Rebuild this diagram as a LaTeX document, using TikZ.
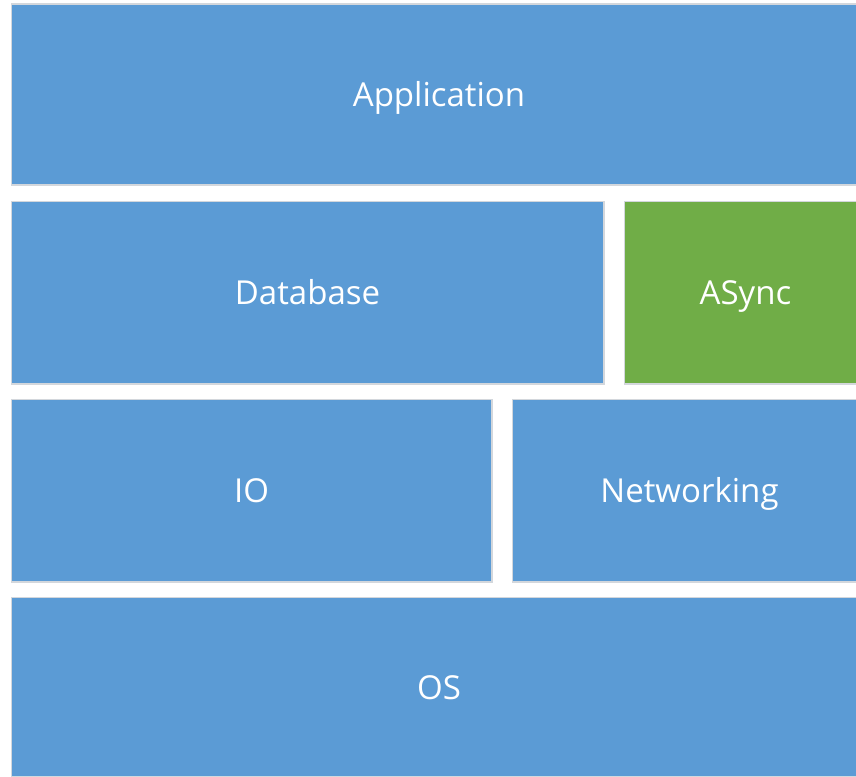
\documentclass[tikz,border=0pt]{standalone}
\usepackage{fontspec}
\setmainfont{Open Sans}
\definecolor{layerblue}{HTML}{5B9BD5}
\definecolor{layergreen}{HTML}{70AD47}
\definecolor{edgeshade}{HTML}{C9CED4}
\begin{document}
\begin{tikzpicture}[x=1pt,y=-1pt,
  shade/.style={fill=edgeshade,draw=none,opacity=0.8},
  lbl/.style={text=white,font=\fontsize{33}{36}\selectfont,inner sep=0pt,anchor=base}]
\useasboundingbox[fill=white] (0,0) rectangle (856,776);
\begin{scope}
\clip (0,0) rectangle (856,776);
% layers: name, corners, fill (right-hand layers run past the page edge)
\foreach \nm/\xa/\ya/\xb/\yb/\col in {app/12/5/866/184/layerblue, db/12/202/603/383/layerblue, async/625/202/866/383/layergreen, io/12/400/491/581/layerblue, net/513/400/866/581/layerblue, os/12/598/866/776/layerblue}{
  \fill[shade] (\xa-1.5,\ya-1.5) rectangle (\xb+1.5,\yb+1.5);
  \fill[fill=\col] (\xa,\ya) rectangle (\xb,\yb);
  % baseline point for the layer's label
  \coordinate (\nm) at ({(\xa+\xb)/2},{(\ya+\yb)/2+12});
}
\end{scope}
\node[lbl] (tapp) at (app) {Application};
\node[lbl] (tdb) at (db) {Database};
\node[lbl] (tasync) at (async) {ASync};
\node[lbl] (tio) at (io) {IO};
\node[lbl] (tnet) at (net) {Networking};
\node[lbl] (tos) at (os) {OS};
\end{tikzpicture}
\end{document}
